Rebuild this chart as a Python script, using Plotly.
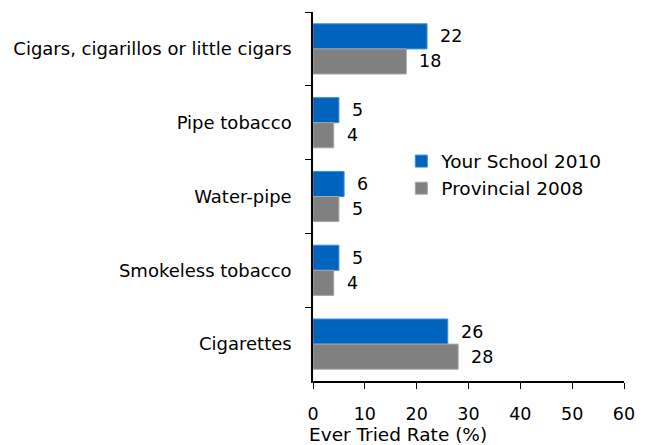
import plotly.graph_objects as go

categories = ["Cigars, cigarillos or little cigars", "Pipe tobacco", "Water-pipe",
              "Smokeless tobacco", "Cigarettes"]
school_2010 = [22, 5, 6, 5, 26]
provincial_2008 = [18, 4, 5, 4, 28]
series_names = ["Your School 2010", "Provincial 2008"]
x_ticks = [0, 10, 20, 30, 40, 50, 60]
x_title = "Ever Tried Rate (%)"

FONT = "DejaVu Sans"
BLUE = "#0063BE"
GRAY = "#808080"

fig = go.Figure()
fig.add_trace(go.Bar(y=categories, x=school_2010, name=series_names[0], orientation="h",
                     marker=dict(color=BLUE, line=dict(color="#3F8FD6", width=1))))
fig.add_trace(go.Bar(y=categories, x=provincial_2008, name=series_names[1], orientation="h",
                     marker=dict(color=GRAY, line=dict(color="#A6A6A6", width=1))))

annotations = []
for vals, shift in ((school_2010, 12.5), (provincial_2008, -12.5)):
    for c, v in zip(categories, vals):
        annotations.append(dict(x=v, y=c, text=str(v), showarrow=False, xanchor="left",
                                xshift=11, yshift=shift,
                                font=dict(size=17.5, color="black", family=FONT)))
annotations.append(dict(x=-0.02, y=-0.146, xref="paper", yref="paper", text=x_title,
                        showarrow=False, xanchor="left", yanchor="middle",
                        font=dict(size=18.5, color="black", family=FONT)))

fig.update_layout(
    width=650, height=445,
    margin=dict(l=313, r=26, t=12, b=64),
    plot_bgcolor="white", paper_bgcolor="white",
    barmode="group", bargap=0.32, bargroupgap=0,
    font=dict(family=FONT, size=16, color="black"),
    showlegend=True,
    legend=dict(x=0.284, y=0.558, xanchor="left", yanchor="middle",
                font=dict(size=18.5),
                bgcolor="rgba(0,0,0,0)", itemwidth=30, tracegroupgap=0),
    annotations=annotations,
)
fig.update_xaxes(range=[0, 60], tickvals=x_ticks, ticks="outside", ticklen=6, tickcolor="black",
                 showline=True, linecolor="black", linewidth=1.5, showgrid=False, zeroline=False,
                 tickfont=dict(size=17.5), ticklabelstandoff=10)
fig.update_yaxes(autorange="reversed", ticks="outside", tickson="boundaries", ticklen=6,
                 tickcolor="black", showline=True, linecolor="black", linewidth=1.5, showgrid=False,
                 tickfont=dict(size=18), ticklabelstandoff=16)

fig.write_html("out.html")
